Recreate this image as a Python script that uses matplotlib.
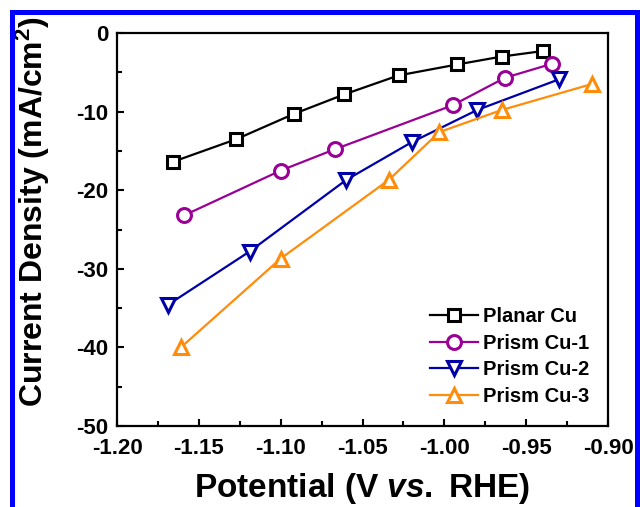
import matplotlib.pyplot as plt
from matplotlib.patches import Rectangle
from matplotlib.ticker import MultipleLocator

plt.rcParams["font.family"] = ["Liberation Sans", "DejaVu Sans"]
plt.rcParams["font.weight"] = "bold"
plt.rcParams["mathtext.fontset"] = "custom"
plt.rcParams["mathtext.it"] = "Liberation Sans:italic:bold"
plt.rcParams["mathtext.rm"] = "Liberation Sans:bold"

# potential (V vs. RHE) and current density (mA/cm2)
planar_x = [-1.166, -1.127, -1.092, -1.061, -1.028, -0.992, -0.965, -0.940]
planar_y = [-16.4, -13.5, -10.3, -7.8, -5.4, -4.0, -3.0, -2.3]

prism1_x = [-1.159, -1.100, -1.067, -0.995, -0.963, -0.934]
prism1_y = [-23.2, -17.5, -14.8, -9.2, -5.7, -3.9]

prism2_x = [-1.169, -1.119, -1.060, -1.020, -0.980, -0.930]
prism2_y = [-34.6, -27.8, -18.7, -13.9, -9.8, -5.9]

prism3_x = [-1.161, -1.100, -1.034, -1.003, -0.965, -0.910]
prism3_y = [-40.0, -28.7, -18.7, -12.6, -9.8, -6.5]

series = [
    (planar_x, planar_y, "Planar Cu", "black", "s", 9),
    (prism1_x, prism1_y, "Prism Cu-1", "#9B0096", "o", 10),
    (prism2_x, prism2_y, "Prism Cu-2", "#0000A8", "v", 10.5),
    (prism3_x, prism3_y, "Prism Cu-3", "#FF8C0A", "^", 10.5),
]

fig = plt.figure(figsize=(6.4, 5.07), dpi=100)
ax = fig.add_axes([117 / 640, 1 - 426 / 507, 491 / 640, 393 / 507])

for x, y, label, c, m, ms in series:
    ax.plot(x, y, color=c, lw=1.6, marker=m, ms=ms, mfc="white",
            mec=c, mew=2.2, label=label)

ax.set_xlim(-1.20, -0.90)
ax.set_ylim(-50, 0)
ax.xaxis.set_minor_locator(MultipleLocator(0.025))
ax.yaxis.set_minor_locator(MultipleLocator(5))
ax.set_xticks([-1.20, -1.15, -1.10, -1.05, -1.00, -0.95, -0.90])
ax.set_xticklabels(["-1.20", "-1.15", "-1.10", "-1.05", "-1.00", "-0.95", "-0.90"])
ax.set_yticks([0, -10, -20, -30, -40, -50])
ax.set_yticklabels(["0", "-10", "-20", "-30", "-40", "-50"])
ax.tick_params(which="both", direction="in", width=1.5, labelsize=16)
ax.tick_params(which="major", length=5, pad=6)
ax.tick_params(axis="x", which="major", pad=9)
ax.tick_params(which="minor", length=3.5)
for s in ax.spines.values():
    s.set_linewidth(1.6)

ax.set_xlabel(r"Potential (V $\mathit{vs.}$ RHE)", fontsize=24, fontweight="bold")
ax.set_ylabel(r"Current Density (mA/cm$^\mathregular{2}$)", fontsize=23, fontweight="bold")
ax.xaxis.set_label_coords(0.5, -0.115)
ax.yaxis.set_label_coords(-0.132, 0.545)

ax.legend(loc="center left", bbox_to_anchor=(0.637, 0.177), frameon=False,
          fontsize=14.5, handlelength=2.4, handletextpad=0.25, labelspacing=0.38,
          borderpad=0, borderaxespad=0)

# blue frame around the figure
blue = "#0000FF"
fig.add_artist(Rectangle((10 / 640, 0), 5 / 640, 497 / 507, transform=fig.transFigure,
                         color=blue, lw=0))
fig.add_artist(Rectangle((10 / 640, 492 / 507), 630 / 640, 5 / 507, transform=fig.transFigure,
                         color=blue, lw=0))
fig.add_artist(Rectangle((635 / 640, 0), 5 / 640, 497 / 507, transform=fig.transFigure,
                         color=blue, lw=0))

fig.savefig("out.png", dpi=100)
